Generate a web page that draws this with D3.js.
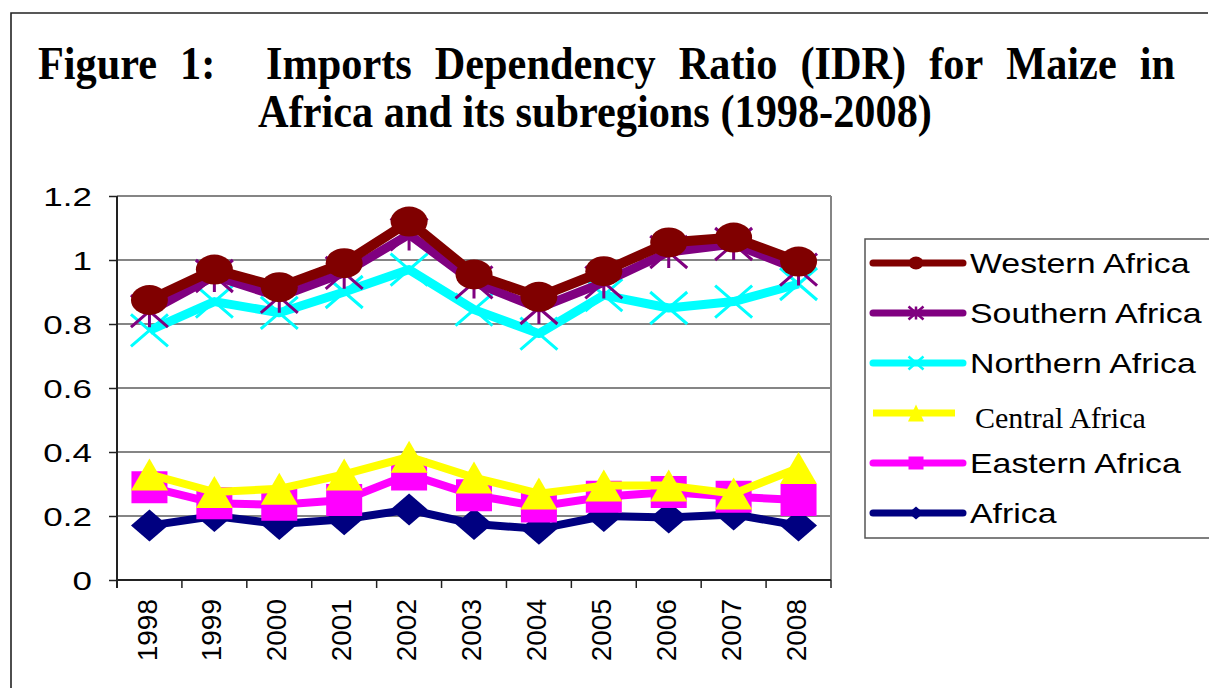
<!DOCTYPE html>
<html>
<head>
<meta charset="utf-8">
<script src="https://cdn.jsdelivr.net/npm/d3@7"></script>
<style>
  body { margin: 0; background: #fff; }
  svg { display: block; }
</style>
</head>
<body>
<script>
// values
const years = ["1998", "1999", "2000", "2001", "2002", "2003", "2004", "2005", "2006", "2007", "2008"];
const western  = [0.875, 0.97, 0.915, 0.99, 1.12, 0.955, 0.885, 0.965, 1.055, 1.07, 0.995];
const southern = [0.84, 0.95, 0.885, 0.96, 1.08, 0.93, 0.85, 0.93, 1.025, 1.05, 0.97];
const northern = [0.78, 0.87, 0.835, 0.90, 0.97, 0.845, 0.77, 0.89, 0.85, 0.87, 0.925];
const central  = [0.33, 0.275, 0.285, 0.33, 0.385, 0.32, 0.27, 0.295, 0.295, 0.27, 0.35];
const eastern  = [0.29, 0.24, 0.235, 0.25, 0.33, 0.265, 0.23, 0.26, 0.275, 0.26, 0.25];
const africa   = [0.17, 0.20, 0.175, 0.19, 0.22, 0.175, 0.16, 0.20, 0.195, 0.205, 0.17];
const seriesNames = ["Western Africa", "Southern Africa", "Northern Africa", "Central Africa", "Eastern Africa", "Africa"];
const yTickValues = [0, 0.2, 0.4, 0.6, 0.8, 1, 1.2];
const yTickLabels = ["0", "0.2", "0.4", "0.6", "0.8", "1", "1.2"];

const seriesValues = [western, southern, northern, central, eastern, africa];

// look of each series
const styles = {
    "Western Africa":  { color: "#800000", marker: "circle",   width: 10 },
    "Southern Africa": { color: "#800080", marker: "star",     width: 9 },
    "Northern Africa": { color: "#00ffff", marker: "cross",    width: 9 },
    "Central Africa":  { color: "#ffff00", marker: "triangle", width: 8 },
    "Eastern Africa":  { color: "#ff00ff", marker: "square",   width: 8 },
    "Africa":          { color: "#000080", marker: "diamond",  width: 8 }
};

const series = seriesNames.map((name, i) => ({
    name: name,
    values: years.map((yr, j) => ({ year: yr, v: seriesValues[i][j] }))
}));

const W = 1209, H = 688;
const plot = { left: 117, right: 831, top: 196, bottom: 580 };

const svg = d3.select("body").append("svg")
    .attr("width", W)
    .attr("height", H);

svg.append("rect").attr("width", W).attr("height", H).attr("fill", "#fff");

// page frame
svg.append("path")
    .attr("d", "M11," + H + "V13H1208")
    .attr("fill", "none")
    .attr("stroke", "#222")
    .attr("stroke-width", 1.6);

// title: a bit condensed, first line justified word by word
const sx = 0.92;
const titleWords = ["Figure", "1:", "Imports", "Dependency", "Ratio", "(IDR)", "for", "Maize", "in"];
const titleFont = "'Liberation Serif', 'Times New Roman', serif";
const tw = svg.append("g")
    .attr("transform", "scale(" + sx + ",1)")
    .attr("font-family", titleFont)
    .attr("font-weight", "bold")
    .attr("font-size", 46);
const wordNodes = tw.selectAll("text.w")
    .data(titleWords)
    .enter().append("text")
    .attr("class", "w")
    .attr("y", 79)
    .text(d => d);
const widths = [];
wordNodes.each(function () { widths.push(this.getComputedTextLength()); });
const lineStart = 38 / sx, lineEnd = 1175 / sx;
const totalW = d3.sum(widths);
const gap = (lineEnd - lineStart - totalW) / (titleWords.length - 1 + 1.2);
let cx = lineStart;
wordNodes.attr("x", (d, i) => {
    const pos = cx;
    cx += widths[i] + gap + (i === 1 ? gap * 1.2 : 0);
    return pos;
});
tw.append("text")
    .attr("x", 595 / sx)
    .attr("y", 127)
    .attr("text-anchor", "middle")
    .text("Africa and its subregions (1998-2008)");

// scales
const x = d3.scaleBand().domain(years).range([plot.left, plot.right]);
const y = d3.scaleLinear().domain([0, 1.2]).range([plot.bottom, plot.top]);
const bw = x.bandwidth();

// gridlines and plot border
svg.append("g").selectAll("line")
    .data(yTickValues.filter(v => v > 0))
    .enter().append("line")
    .attr("x1", plot.left)
    .attr("x2", plot.right)
    .attr("y1", d => y(d))
    .attr("y2", d => y(d))
    .attr("stroke", "#858585")
    .attr("stroke-width", 1.8);

svg.append("line")
    .attr("x1", plot.right).attr("x2", plot.right)
    .attr("y1", plot.top).attr("y2", plot.bottom)
    .attr("stroke", "#858585")
    .attr("stroke-width", 2);

// y axis
const axisY = d3.axisLeft(y)
    .tickValues(yTickValues)
    .tickFormat((d, i) => yTickLabels[i])
    .tickSize(8)
    .tickSizeOuter(0);

const gy = svg.append("g")
    .attr("transform", "translate(" + plot.left + ",0)")
    .call(axisY);
gy.select(".domain").attr("stroke", "#222").attr("stroke-width", 2)
    .attr("d", "M0," + plot.top + "V" + (plot.bottom + 8));
gy.selectAll(".tick line").attr("stroke", "#222").attr("stroke-width", 1.5);
gy.selectAll(".tick text")
    .attr("x", 0)
    .attr("dy", "0.36em")
    .attr("transform", "translate(-25,0) scale(1.4,1)")
    .attr("font-family", "'Liberation Sans', Arial, sans-serif")
    .attr("font-size", 25)
    .attr("fill", "#000");

// x axis: line, ticks between categories, rotated labels
const gx = svg.append("g");
gx.append("line")
    .attr("x1", plot.left).attr("x2", plot.right)
    .attr("y1", plot.bottom).attr("y2", plot.bottom)
    .attr("stroke", "#222")
    .attr("stroke-width", 2);
gx.selectAll("line.tk")
    .data(years.map(d => x(d)).concat([x.range()[1]]))
    .enter().append("line")
    .attr("class", "tk")
    .attr("x1", d => d).attr("x2", d => d)
    .attr("y1", plot.bottom).attr("y2", plot.bottom + 8)
    .attr("stroke", "#222")
    .attr("stroke-width", 1.5);
gx.selectAll("text")
    .data(years)
    .enter().append("text")
    .attr("transform", d => "translate(" + (x(d) + bw / 2 - 3) + "," + (plot.bottom + 19) + ") rotate(-90)")
    .attr("text-anchor", "end")
    .attr("dy", "0.36em")
    .attr("font-family", "'Liberation Sans', Arial, sans-serif")
    .attr("font-size", 28)
    .text(d => d);

// marker shapes centred on 0,0
function markerPath(type, w, h) {
    const a = w / 2, b = h / 2;
    switch (type) {
        case "circle":
            return "M" + (-a) + ",0A" + a + "," + b + " 0 1 0 " + a + ",0A" + a + "," + b + " 0 1 0 " + (-a) + ",0Z";
        case "triangle":
            return "M0," + (-b) + "L" + a + "," + b + "L" + (-a) + "," + b + "Z";
        case "square":
            return "M" + (-a) + "," + (-b) + "H" + a + "V" + b + "H" + (-a) + "Z";
        case "diamond":
            return "M0," + (-b) + "L" + a + ",0L0," + b + "L" + (-a) + ",0Z";
        case "cross":
            return "M" + (-a) + "," + (-b) + "L" + a + "," + b + "M" + a + "," + (-b) + "L" + (-a) + "," + b;
        case "star":
            return "M" + (-a) + "," + (-b) + "L" + a + "," + b + "M" + a + "," + (-b) + "L" + (-a) + "," + b +
                "M0," + (-b) + "V" + b;
    }
}
const openMarkers = { cross: true, star: true };

const line = d3.line()
    .x(d => x(d.year) + bw / 2)
    .y(d => y(d.v));

// draw Africa first so Western sits on top
const order = series.slice().reverse();
const groups = svg.append("g").selectAll("g")
    .data(order)
    .enter().append("g");

groups.append("path")
    .attr("d", d => line(d.values))
    .attr("fill", "none")
    .attr("stroke", d => styles[d.name].color)
    .attr("stroke-width", d => styles[d.name].width)
    .attr("stroke-linejoin", "round");

groups.each(function (s) {
    const st = styles[s.name];
    const open = openMarkers[st.marker];
    d3.select(this).selectAll("path.mk")
        .data(s.values)
        .enter().append("path")
        .attr("class", "mk")
        .attr("transform", d => "translate(" + (x(d.year) + bw / 2) + "," + y(d.v) + ")")
        .attr("d", markerPath(st.marker, st.marker === "square" ? 36 : 37, st.marker === "circle" ? 30 : 32))
        .attr("fill", open ? "none" : st.color)
        .attr("stroke", open ? st.color : "none")
        .attr("stroke-width", open ? 3 : 0);
});

// legend
const legend = svg.append("g");
legend.append("rect")
    .attr("x", 865).attr("y", 239)
    .attr("width", 360).attr("height", 299)
    .attr("fill", "#fff")
    .attr("stroke", "#555")
    .attr("stroke-width", 1.5);

const rows = legend.selectAll("g.row")
    .data(series)
    .enter().append("g")
    .attr("class", "row")
    .attr("transform", (d, i) => "translate(0," + (263 + 50 * i) + ")");

rows.append("line")
    .attr("x1", 873)
    .attr("x2", d => d.name === "Central Africa" ? 955 : 963)
    .attr("stroke", d => styles[d.name].color)
    .attr("stroke-width", 7)
    .attr("stroke-linecap", d => d.name === "Central Africa" ? "butt" : "round");

rows.append("path")
    .attr("transform", "translate(916,0)")
    .attr("d", d => styles[d.name].marker === "triangle"
        ? markerPath("triangle", 16, 17)
        : markerPath(styles[d.name].marker, 15, 13))
    .attr("fill", d => openMarkers[styles[d.name].marker] ? "none" : styles[d.name].color)
    .attr("stroke", d => openMarkers[styles[d.name].marker] ? styles[d.name].color : "none")
    .attr("stroke-width", 2.5);

rows.append("text")
    .attr("transform", d => d.name === "Central Africa"
        ? "translate(975,4)"
        : "translate(970,0) scale(1.21,1)")
    .attr("dy", "0.36em")
    .attr("font-family", d => d.name === "Central Africa"
        ? "'Liberation Serif', 'Times New Roman', serif"
        : "'Liberation Sans', Arial, sans-serif")
    .attr("font-size", d => d.name === "Central Africa" ? 30 : 28)
    .text(d => d.name);
</script>
</body>
</html>
